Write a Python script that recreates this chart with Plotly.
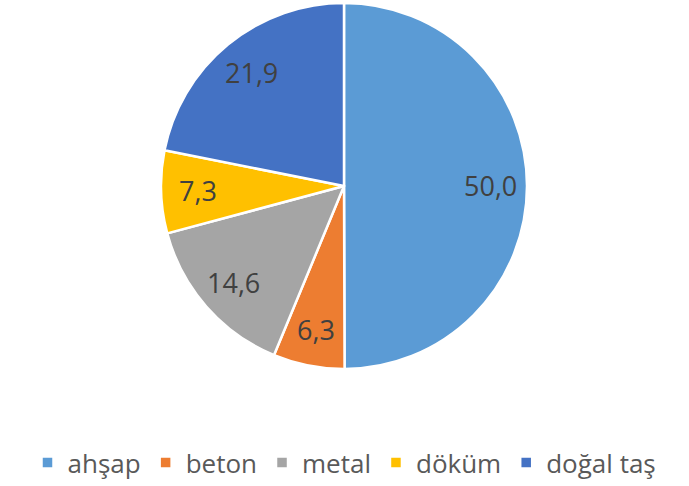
import math
import plotly.graph_objects as go

labels = ["ahşap", "beton", "metal", "döküm", "doğal taş"]
values = [50.0, 6.3, 14.6, 7.3, 21.9]
colors = ["#5B9BD5", "#ED7D31", "#A5A5A5", "#FFC000", "#4472C4"]

texts = [f"{v:.1f}".replace(".", ",") for v in values]

W, H = 689, 486
cx, cy, r = 344, 186, 183   # pie centre and radius in pixels
label_frac = 0.8            # data labels sit at this fraction of the radius

fig = go.Figure(
    go.Pie(
        labels=labels,
        values=values,
        textinfo="none",
        marker=dict(colors=colors, line=dict(color="white", width=2.5)),
        sort=False,
        direction="clockwise",
        rotation=0,
        hole=0,
        domain=dict(
            x=[(cx - r) / W, (cx + r) / W],
            y=[1 - (cy + r) / H, 1 - (cy - r) / H],
        ),
    )
)

# data labels placed on each slice's mid-angle (clockwise from 12 o'clock)
total = sum(values)
cum = 0.0
for v, t in zip(values, texts):
    mid = (cum + v / 2) / total * 2 * math.pi
    cum += v
    px = cx + label_frac * r * math.sin(mid)
    py = cy - label_frac * r * math.cos(mid)
    fig.add_annotation(
        x=px / W,
        y=1 - py / H,
        xref="paper",
        yref="paper",
        text=t,
        showarrow=False,
        xanchor="center",
        yanchor="middle",
        font=dict(family="Open Sans", size=27, color="#404040"),
    )

fig.update_layout(
    width=W,
    height=H,
    margin=dict(l=0, r=0, t=0, b=0),
    paper_bgcolor="white",
    showlegend=True,
    legend=dict(
        orientation="h",
        x=0.5,
        xanchor="center",
        y=0.0,
        yanchor="bottom",
        font=dict(family="Open Sans", size=26, color="#595959"),
    ),
)

fig.write_html("out.html")
